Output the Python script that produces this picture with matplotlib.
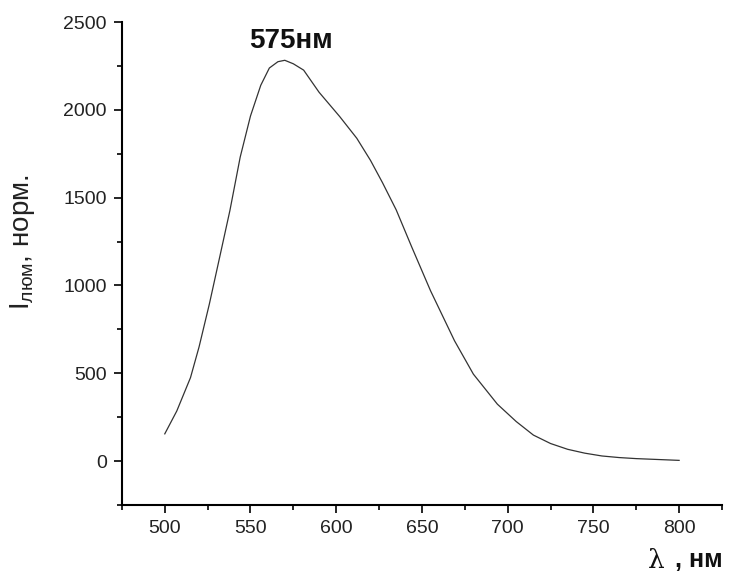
import matplotlib.pyplot as plt
from matplotlib.ticker import MultipleLocator

plt.rcParams['font.family'] = ['Liberation Sans', 'DejaVu Sans']
plt.rcParams['mathtext.default'] = 'regular'

# spectrum
wavelength = [500, 507, 515, 520, 526, 532, 538, 544, 550, 556, 561, 566, 570,
              575, 581, 590, 602, 612, 620, 627, 635, 644, 655, 669, 680, 694,
              705, 715, 725, 735, 745, 755, 765, 775, 790, 800]
intensity = [155, 285, 475, 650, 894, 1160, 1427, 1731, 1965, 2140, 2238, 2274, 2282,
             2262, 2226, 2100, 1962, 1838, 1712, 1585, 1430, 1220, 970, 685, 495, 324,
             225, 148, 100, 67, 45, 29, 20, 14, 8, 4]

peak_label = "575нм"
peak_x, peak_y = 573.5, 2390

fig = plt.figure(figsize=(7.3, 5.76), dpi=100)
ax = fig.add_axes([0.167, 0.1233, 0.822, 0.8385])

ax.plot(wavelength, intensity, color="#333333", lw=0.9)

ax.set_xlim(475, 825)
ax.set_ylim(-250, 2500)
ax.xaxis.set_major_locator(MultipleLocator(50))
ax.xaxis.set_minor_locator(MultipleLocator(25))
ax.yaxis.set_major_locator(MultipleLocator(500))
ax.yaxis.set_minor_locator(MultipleLocator(250))

ax.spines["top"].set_visible(False)
ax.spines["right"].set_visible(False)
for s in ("left", "bottom"):
    ax.spines[s].set_linewidth(1.5)

ax.tick_params(which="major", direction="out", length=6, width=1.2,
               labelsize=14, pad=5, labelcolor="#222222")
ax.tick_params(which="minor", direction="out", length=3.5, width=1.2)

ax.text(peak_x, peak_y, peak_label, fontsize=20, fontweight="bold",
        ha="center", va="center", color="#111111")

ax.set_ylabel("I$_{люм}$, норм.", fontsize=20, color="#222222")
ax.yaxis.set_label_coords(-0.142, 0.545)

fig.text(723 / 730, 1 - 560 / 576, ", нм", fontsize=18, fontweight="bold",
         ha="right", va="center", color="#111111")
fig.text(656 / 730, 1 - 560 / 576, "λ", fontsize=19, family="DejaVu Serif",
         ha="center", va="center", color="#111111")

fig.savefig("out.png", dpi=100, facecolor="white")
